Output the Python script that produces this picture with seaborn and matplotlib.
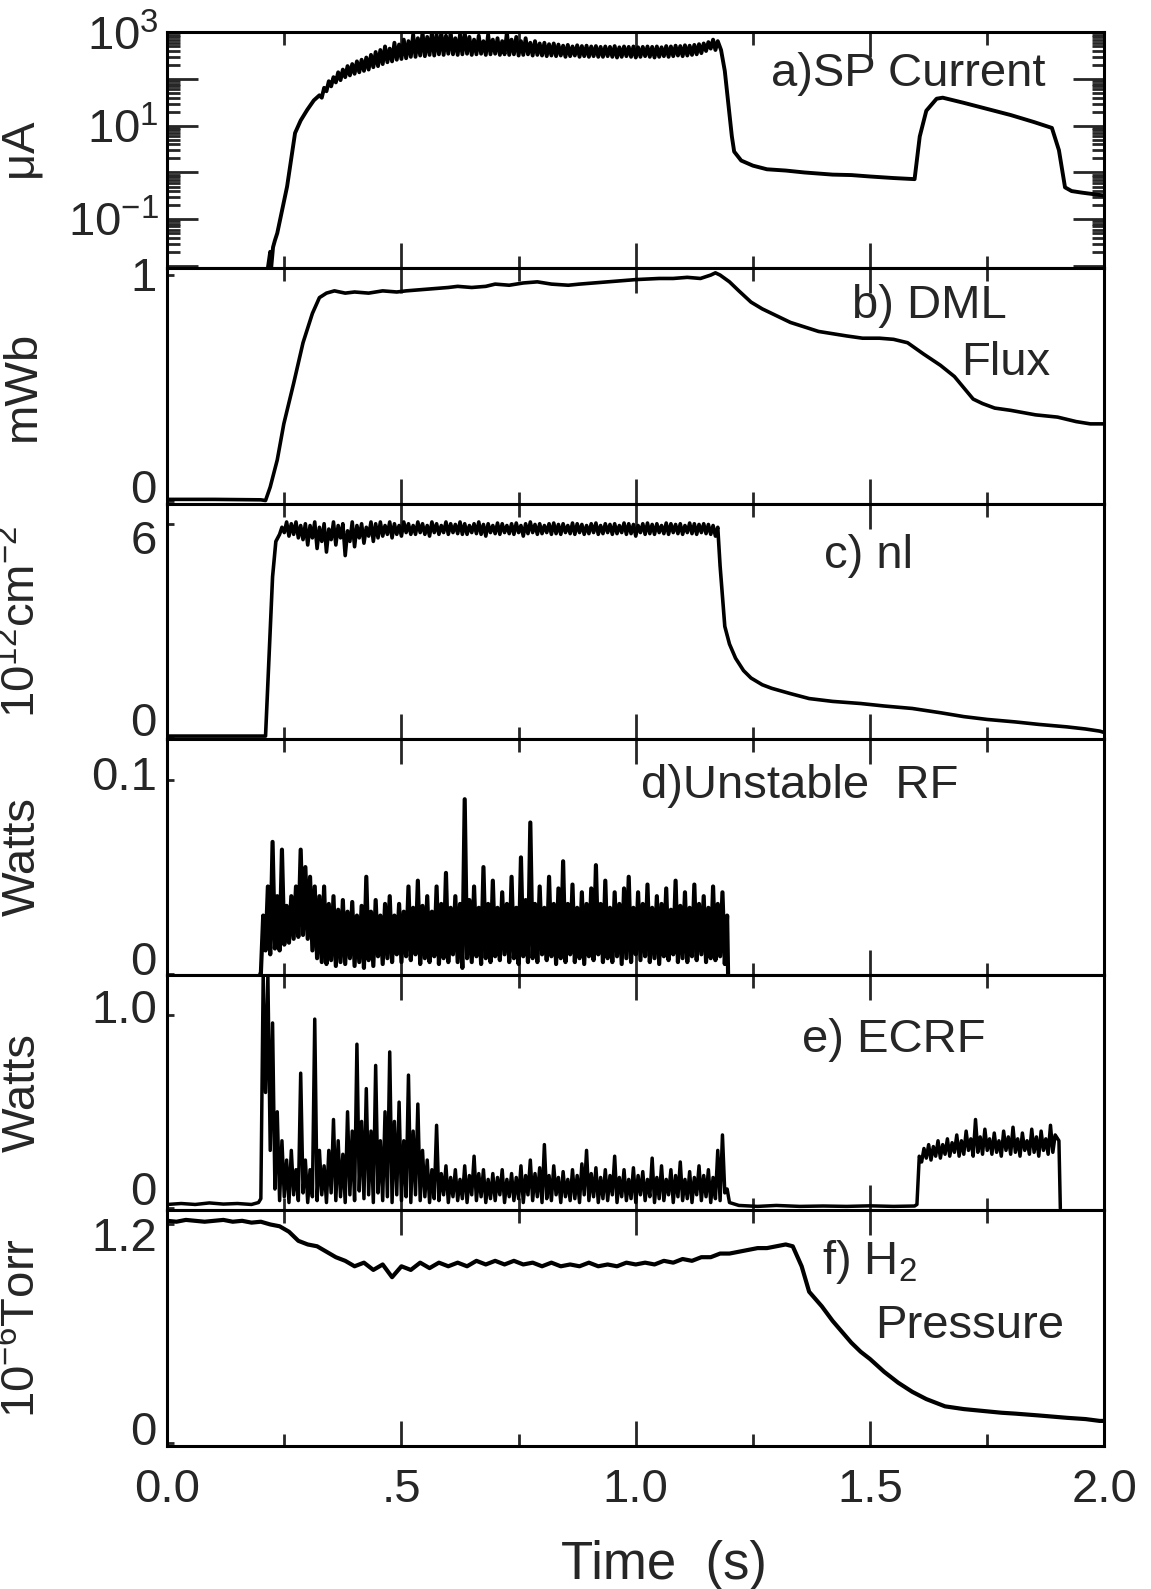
import numpy as np
import pandas as pd
import seaborn as sns
import matplotlib
matplotlib.use('Agg')
import matplotlib.pyplot as plt
from matplotlib.ticker import NullFormatter

sns.set_style('ticks')
plt.rcParams['font.family'] = ['Liberation Sans', 'DejaVu Sans']
plt.rcParams['mathtext.fontset'] = 'custom'
plt.rcParams['mathtext.rm'] = 'Liberation Sans'
plt.rcParams['mathtext.it'] = 'Liberation Sans:italic'
plt.rcParams['mathtext.default'] = 'regular'

FS = 34

############################## DATA ##############################
# a) SP current, uA (log axis)
a_rise = [(0.215, 0.009), (0.22, 0.02), (0.222, 0.009), (0.226, 0.025), (0.23, 0.035),
          (0.235, 0.05), (0.245, 0.15), (0.256, 0.5), (0.265, 2.0), (0.273, 7.0),
          (0.285, 13), (0.299, 22), (0.313, 35), (0.325, 45)]
a_t0, a_t1 = 0.33, 1.17
a_lo = [40, 55, 70, 85, 95, 110, 120, 130, 140, 150,
        160, 180, 190, 210, 230, 240, 260, 270, 280, 300,
        300, 320, 310, 330, 320, 340, 330, 350, 340, 330,
        340, 350, 330, 340, 350, 330, 340, 350, 330, 340,
        330, 340, 320, 330, 340, 320, 330, 320, 310, 320,
        310, 320, 300, 310, 320, 300, 310, 300, 310, 300,
        300, 310, 300, 290, 300, 310, 300, 290, 300, 310,
        300, 290, 300, 310, 300, 310, 320, 310, 320, 330,
        340, 360, 400, 450, 420]
a_hi = [65, 90, 110, 140, 160, 190, 210, 240, 260, 290,
        330, 380, 420, 500, 450, 600, 550, 700, 650, 900,
        750, 1000, 800, 1000, 900, 1000, 850, 1000, 750, 900,
        1000, 800, 700, 850, 650, 900, 700, 750, 650, 1000,
        700, 800, 650, 750, 600, 650, 580, 600, 560, 580,
        550, 520, 540, 500, 530, 510, 520, 500, 510, 490,
        500, 490, 510, 480, 500, 490, 500, 480, 490, 500,
        490, 500, 480, 510, 500, 520, 510, 530, 520, 540,
        560, 580, 620, 700, 650]
a_tail = [(1.182, 420), (1.19, 150), (1.197, 34), (1.205, 6), (1.21, 2.8), (1.225, 1.8),
          (1.25, 1.4), (1.28, 1.17), (1.32, 1.1), (1.36, 1.0), (1.42, 0.9), (1.46, 0.88),
          (1.5, 0.82), (1.55, 0.76), (1.595, 0.72), (1.606, 5.9), (1.62, 21), (1.642, 38),
          (1.655, 40), (1.7, 31), (1.75, 23), (1.8, 17), (1.85, 12), (1.888, 9),
          (1.903, 3.0), (1.916, 0.48), (1.93, 0.4), (1.952, 0.37), (1.98, 0.34), (2.0, 0.32)]

# b) DML flux, mWb
b_pts = [(0.0, 0.005), (0.1, 0.005), (0.2, 0.003), (0.21, 0.0), (0.22, 0.06), (0.235, 0.18),
         (0.249, 0.34), (0.27, 0.52), (0.29, 0.70), (0.31, 0.83), (0.325, 0.90), (0.34, 0.92),
         (0.357, 0.93), (0.38, 0.92), (0.40, 0.925), (0.43, 0.92), (0.46, 0.93), (0.49, 0.925),
         (0.51, 0.93), (0.54, 0.935), (0.57, 0.94), (0.60, 0.945), (0.62, 0.95), (0.65, 0.945),
         (0.68, 0.95), (0.70, 0.96), (0.73, 0.955), (0.76, 0.965), (0.79, 0.97), (0.82, 0.96),
         (0.856, 0.955), (0.88, 0.96), (0.91, 0.965), (0.94, 0.97), (0.97, 0.975), (1.0, 0.98),
         (1.05, 0.985), (1.08, 0.985), (1.11, 0.99), (1.138, 0.985), (1.16, 1.0), (1.17, 1.01),
         (1.18, 1.0), (1.2, 0.97), (1.22, 0.93), (1.246, 0.88), (1.27, 0.85), (1.3, 0.82),
         (1.33, 0.79), (1.36, 0.77), (1.39, 0.75), (1.42, 0.74), (1.45, 0.73), (1.484, 0.72),
         (1.52, 0.72), (1.55, 0.715), (1.58, 0.70), (1.614, 0.65), (1.65, 0.60), (1.68, 0.55),
         (1.70, 0.50), (1.72, 0.45), (1.74, 0.43), (1.766, 0.41), (1.8, 0.40), (1.853, 0.38),
         (1.9, 0.37), (1.94, 0.35), (1.97, 0.34), (2.0, 0.34)]

# c) nl, 10^12 cm^-2
c_rise = [(0.0, 0.0), (0.2, 0.0), (0.21, 0.0), (0.215, 1.5), (0.22, 3.0), (0.225, 4.5),
          (0.232, 5.5)]
c_t0, c_t1 = 0.24, 1.17
c_lo = [5.70, 5.75, 5.65, 5.70, 5.60, 5.55, 5.40, 5.60, 5.30, 5.50,
        5.20, 5.55, 5.40, 5.60, 5.10, 5.50, 5.35, 5.60, 5.45, 5.65,
        5.50, 5.60, 5.65, 5.70, 5.60, 5.70, 5.65, 5.75, 5.70, 5.70,
        5.75, 5.70, 5.65, 5.75, 5.70, 5.75, 5.70, 5.75, 5.72, 5.70,
        5.70, 5.75, 5.72, 5.70, 5.65, 5.75, 5.72, 5.70, 5.75, 5.72,
        5.70, 5.75, 5.65, 5.72, 5.75, 5.70, 5.72, 5.75, 5.70, 5.72,
        5.70, 5.75, 5.72, 5.70, 5.75, 5.70, 5.72, 5.75, 5.70, 5.72,
        5.75, 5.70, 5.72, 5.75, 5.70, 5.72, 5.65, 5.75, 5.70, 5.72,
        5.70, 5.75, 5.72, 5.70, 5.75, 5.72, 5.70, 5.75, 5.72, 5.70,
        5.75, 5.72, 5.70, 5.65]
c_hi = [5.90, 6.05, 6.00, 6.05, 5.95, 6.00, 5.95, 6.05, 5.90, 6.00,
        5.85, 6.05, 5.95, 6.00, 5.80, 6.05, 5.95, 6.00, 5.90, 6.05,
        6.00, 6.05, 5.95, 6.05, 6.00, 5.95, 6.05, 6.00, 5.95, 6.05,
        6.00, 5.95, 6.05, 6.00, 5.95, 6.05, 6.00, 5.98, 6.05, 6.00,
        5.95, 6.00, 6.05, 5.98, 6.00, 5.95, 6.02, 6.00, 5.95, 6.00,
        6.02, 5.95, 6.00, 6.05, 5.98, 6.00, 5.95, 6.00, 6.02, 5.98,
        6.00, 5.95, 6.02, 6.00, 5.98, 5.95, 6.00, 6.02, 5.95, 6.00,
        5.98, 6.00, 5.95, 6.02, 6.00, 5.98, 5.95, 6.00, 6.02, 5.98,
        6.00, 5.95, 6.02, 6.00, 5.98, 6.00, 5.95, 6.02, 6.00, 5.98,
        6.00, 5.98, 5.95, 5.90]
c_tail = [(1.18, 4.8), (1.19, 3.1), (1.2, 2.6), (1.213, 2.2), (1.23, 1.85), (1.246, 1.64),
          (1.27, 1.45), (1.29, 1.35), (1.33, 1.2), (1.37, 1.06), (1.42, 0.98), (1.48, 0.92),
          (1.53, 0.85), (1.59, 0.78), (1.65, 0.66), (1.70, 0.55), (1.75, 0.47), (1.81, 0.40),
          (1.86, 0.33), (1.92, 0.26), (1.96, 0.20), (1.99, 0.14), (2.0, 0.10)]

# d) unstable RF, Watts: lower and upper edges of the noise band
d_t0, d_t1 = 0.20, 1.19
d_lo = [0.000, 0.012, 0.010, 0.013, 0.012, 0.015, 0.016, 0.018, 0.019, 0.020,
        0.018, 0.012, 0.008, 0.006, 0.005, 0.007, 0.004, 0.006, 0.005, 0.008,
        0.004, 0.006, 0.003, 0.007, 0.004, 0.009, 0.005, 0.008, 0.006, 0.010,
        0.006, 0.009, 0.007, 0.010, 0.005, 0.008, 0.006, 0.009, 0.005, 0.008,
        0.006, 0.010, 0.006, 0.003, 0.008, 0.006, 0.009, 0.005, 0.008, 0.006,
        0.009, 0.007, 0.010, 0.006, 0.008, 0.005, 0.009, 0.006, 0.008, 0.006,
        0.010, 0.007, 0.009, 0.005, 0.008, 0.006, 0.010, 0.006, 0.008, 0.005,
        0.009, 0.007, 0.010, 0.006, 0.008, 0.006, 0.009, 0.005, 0.008, 0.006,
        0.010, 0.007, 0.009, 0.006, 0.008, 0.005, 0.009, 0.007, 0.010, 0.006,
        0.008, 0.006, 0.009, 0.007, 0.010, 0.006, 0.008, 0.007, 0.009, 0.005]
d_hi = [0.030, 0.045, 0.068, 0.040, 0.064, 0.035, 0.040, 0.045, 0.064, 0.055,
        0.050, 0.045, 0.040, 0.045, 0.036, 0.040, 0.033, 0.038, 0.032, 0.037,
        0.030, 0.035, 0.050, 0.032, 0.038, 0.030, 0.036, 0.040, 0.030, 0.036,
        0.032, 0.045, 0.034, 0.048, 0.035, 0.040, 0.032, 0.045, 0.036, 0.052,
        0.034, 0.040, 0.036, 0.090, 0.038, 0.045, 0.034, 0.055, 0.036, 0.048,
        0.034, 0.042, 0.036, 0.050, 0.034, 0.060, 0.038, 0.078, 0.036, 0.045,
        0.034, 0.050, 0.036, 0.044, 0.058, 0.036, 0.046, 0.034, 0.042, 0.036,
        0.044, 0.056, 0.036, 0.048, 0.034, 0.042, 0.036, 0.044, 0.050, 0.034,
        0.042, 0.036, 0.046, 0.034, 0.040, 0.036, 0.044, 0.033, 0.048, 0.035,
        0.042, 0.034, 0.046, 0.036, 0.040, 0.034, 0.045, 0.036, 0.042, 0.030]

# e) ECRF, Watts
e_base1 = [(0.0, 0.02), (0.03, 0.025), (0.06, 0.02), (0.09, 0.028), (0.12, 0.022),
           (0.15, 0.025), (0.18, 0.02), (0.195, 0.03)]
e_t0, e_t1 = 0.20, 1.19
e_lo = [0.05, 0.60, 0.30, 0.10, 0.04, 0.06, 0.03, 0.07, 0.04, 0.08,
        0.03, 0.06, 0.04, 0.07, 0.03, 0.08, 0.04, 0.06, 0.03, 0.07,
        0.04, 0.09, 0.05, 0.07, 0.03, 0.08, 0.04, 0.06, 0.03, 0.07,
        0.04, 0.06, 0.03, 0.07, 0.04, 0.06, 0.03, 0.05, 0.04, 0.07,
        0.03, 0.06, 0.04, 0.05, 0.03, 0.07, 0.04, 0.06, 0.03, 0.05,
        0.04, 0.07, 0.03, 0.06, 0.04, 0.05, 0.03, 0.07, 0.04, 0.06,
        0.03, 0.05, 0.04, 0.07, 0.03, 0.06, 0.04, 0.05, 0.03, 0.07,
        0.04, 0.06, 0.03, 0.05, 0.04, 0.07, 0.03, 0.06, 0.04, 0.05,
        0.03, 0.07, 0.04, 0.06, 0.03, 0.05, 0.04, 0.07, 0.03, 0.06,
        0.04, 0.05, 0.03, 0.07, 0.04, 0.06, 0.03, 0.05, 0.04, 0.08]
e_hi = [1.21, 1.21, 0.96, 0.50, 0.35, 0.25, 0.30, 0.20, 0.70, 0.25,
        0.20, 0.98, 0.30, 0.22, 0.30, 0.46, 0.35, 0.28, 0.50, 0.40,
        0.85, 0.45, 0.62, 0.40, 0.74, 0.35, 0.50, 0.81, 0.45, 0.55,
        0.35, 0.69, 0.40, 0.54, 0.30, 0.25, 0.20, 0.43, 0.18, 0.22,
        0.16, 0.20, 0.15, 0.22, 0.17, 0.27, 0.18, 0.20, 0.15, 0.18,
        0.16, 0.20, 0.15, 0.18, 0.16, 0.22, 0.17, 0.25, 0.18, 0.21,
        0.33, 0.17, 0.22, 0.16, 0.19, 0.15, 0.20, 0.17, 0.23, 0.30,
        0.18, 0.21, 0.16, 0.20, 0.17, 0.27, 0.16, 0.20, 0.15, 0.21,
        0.17, 0.19, 0.15, 0.26, 0.16, 0.22, 0.15, 0.20, 0.17, 0.24,
        0.15, 0.19, 0.16, 0.22, 0.17, 0.20, 0.16, 0.30, 0.38, 0.10]
e_base2 = [(1.20, 0.03), (1.22, 0.015), (1.26, 0.01), (1.30, 0.015), (1.35, 0.01),
           (1.40, 0.012), (1.45, 0.01), (1.50, 0.013), (1.55, 0.01), (1.595, 0.012)]
e2_t0, e2_t1 = 1.60, 1.89
e2_lo = [0.02, 0.24, 0.26, 0.25, 0.27, 0.26, 0.28, 0.27, 0.29, 0.27,
         0.28, 0.30, 0.27, 0.29, 0.28, 0.30, 0.28, 0.29, 0.27, 0.30,
         0.28, 0.29, 0.27, 0.30, 0.28, 0.29, 0.27, 0.30, 0.28, 0.29]
e2_hi = [0.27, 0.31, 0.33, 0.32, 0.35, 0.33, 0.36, 0.34, 0.38, 0.35,
         0.40, 0.36, 0.46, 0.37, 0.41, 0.36, 0.39, 0.35, 0.40, 0.37,
         0.42, 0.36, 0.39, 0.35, 0.41, 0.37, 0.40, 0.36, 0.43, 0.38]
e_end = [(1.903, 0.35), (1.906, 0.0)]

# f) H2 pressure, 10^-6 Torr
f_pts = [(0.0, 1.22), (0.02, 1.215), (0.04, 1.225), (0.06, 1.22), (0.08, 1.215), (0.10, 1.22),
         (0.12, 1.225), (0.14, 1.215), (0.16, 1.22), (0.18, 1.21), (0.20, 1.215), (0.22, 1.20),
         (0.24, 1.19), (0.26, 1.16), (0.28, 1.11), (0.30, 1.09), (0.32, 1.08), (0.34, 1.05),
         (0.36, 1.02), (0.38, 1.0), (0.40, 0.97), (0.42, 0.99), (0.44, 0.95), (0.46, 0.98),
         (0.48, 0.91), (0.50, 0.97), (0.52, 0.95), (0.54, 0.99), (0.56, 0.96), (0.58, 0.99),
         (0.60, 0.97), (0.62, 0.99), (0.64, 0.97), (0.66, 1.0), (0.68, 0.98), (0.70, 1.0),
         (0.72, 0.98), (0.74, 1.0), (0.76, 0.98), (0.78, 0.99), (0.80, 0.97), (0.82, 0.99),
         (0.84, 0.97), (0.86, 0.98), (0.88, 0.97), (0.90, 0.99), (0.92, 0.97), (0.94, 0.98),
         (0.96, 0.97), (0.98, 0.99), (1.00, 0.98), (1.02, 0.99), (1.04, 0.98), (1.06, 1.0),
         (1.08, 0.99), (1.10, 1.01), (1.12, 1.0), (1.14, 1.02), (1.16, 1.02), (1.18, 1.04),
         (1.20, 1.04), (1.22, 1.05), (1.24, 1.06), (1.26, 1.07), (1.28, 1.07), (1.30, 1.08),
         (1.32, 1.09), (1.335, 1.08), (1.354, 0.97), (1.37, 0.83), (1.397, 0.75), (1.42, 0.67),
         (1.44, 0.61), (1.46, 0.55), (1.48, 0.50), (1.50, 0.46), (1.53, 0.39), (1.56, 0.33),
         (1.59, 0.28), (1.62, 0.24), (1.66, 0.20), (1.70, 0.185), (1.74, 0.175), (1.78, 0.165),
         (1.81, 0.16), (1.86, 0.15), (1.92, 0.137), (1.96, 0.13), (1.99, 0.12), (2.0, 0.12)]

panel_labels = ['$\\mu$A', 'mWb', '$10^{12}$cm$^{-2}$', 'Watts', 'Watts', '$10^{-6}$Torr']
# y tick labels of panels b-f: (value, text); drawn as text beside the axis
y_ticks = [None, [0, 1], [0, 6], [0, 0.1], [0, 1.0], [0, 1.2]]
y_ticklabels = [None, ['0', '1'], ['0', '6'], ['0', '0.1'], ['0', '1.0'], ['0', '1.2']]
y_label_pos = [None, [0.055, 0.955], [0.065, 0.837], [0.05, 0.837], [0.072, 0.845], [0.055, 0.88]]
x_ticks = [0.0, 0.5, 1.0, 1.5, 2.0]
x_ticklabels = ['0.0', '.5', '1.0', '1.5', '2.0']


def grid(t0, t1, vals):
    return list(np.linspace(t0, t1, len(vals)))


def band(t0, t1, lo, hi):
    # lower edge sampled at t0.., upper edge half a step later -> dense zigzag
    step = (t1 - t0) / (len(lo) - 1)
    tl = grid(t0, t1, lo)
    th = grid(t0 + step / 2, t1 + step / 2, hi)
    return sorted(list(zip(tl, lo)) + list(zip(th, hi)))


def trace(ax, pts, lw):
    df = pd.DataFrame(pts, columns=['t', 'v'])
    sns.lineplot(data=df, x='t', y='v', ax=ax, color='black', linewidth=lw,
                 estimator=None, sort=False)


fig, axes = plt.subplots(6, 1, figsize=(11.51, 15.89), dpi=100, sharex=True)
fig.subplots_adjust(left=0.1452, right=0.9595, top=0.9796, bottom=0.0901, hspace=0)

# a
ax = axes[0]
ax.set_yscale('log')
trace(ax, a_rise + band(a_t0, a_t1, a_lo, a_hi) + a_tail, 2.8)
ax.set_ylim(9e-3, 1e3)
ax.set_yticks([1e-2, 1e-1, 1, 10, 100, 1000])
ax.set_yticklabels(['', '$10^{-1}$', '', '$10^{1}$', '', '$10^{3}$'])
ax.set_yticks([m * 10.0 ** e for e in range(-3, 3) for m in range(2, 10)
               if 9e-3 < m * 10.0 ** e < 1e3], minor=True)
ax.yaxis.set_minor_formatter(NullFormatter())
ax.tick_params(axis='y', which='both', right=True, direction='in', width=2)
ax.tick_params(axis='y', which='major', length=22, labelsize=FS, pad=6)
ax.tick_params(axis='y', which='minor', length=9)

# b
ax = axes[1]
trace(ax, b_pts, 2.6)
ax.set_ylim(-0.0135, 1.0315)

# c
ax = axes[2]
trace(ax, c_rise + band(c_t0, c_t1, c_lo, c_hi) + c_tail, 2.6)
ax.set_ylim(-0.086, 6.57)

# d
ax = axes[3]
trace(ax, [(0.199, 0.0)] + band(d_t0, d_t1, d_lo, d_hi) + [(1.197, 0.0)], 3.0)
ax.set_ylim(-0.0005, 0.121)

# e
ax = axes[4]
trace(ax, e_base1 + band(e_t0, e_t1, e_lo, e_hi) + e_base2
      + band(e2_t0, e2_t1, e2_lo, e2_hi) + e_end, 2.5)
ax.set_ylim(-0.01, 1.21)

# f
ax = axes[5]
trace(ax, f_pts, 3.0)
ax.set_ylim(-0.017, 1.278)

texts = [
    [(0.937, 0.825, 'a)SP Current', 'right')],
    [(0.731, 0.84, 'b) DML', 'left'), (0.847, 0.595, 'Flux', 'left')],
    [(0.701, 0.776, 'c) nl', 'left')],
    [(0.506, 0.80, 'd)Unstable  RF', 'left')],
    [(0.677, 0.724, 'e) ECRF', 'left')],
    [(0.699, 0.78, 'f) H$_2$', 'left'), (0.755, 0.51, 'Pressure', 'left')],
]

for i, ax in enumerate(axes):
    ax.set_xlim(0, 2.0)
    ax.set_xticks(x_ticks)
    ax.set_xticks([0.25, 0.75, 1.25, 1.75], minor=True)
    ax.tick_params(axis='x', which='both', direction='in', top=True, bottom=True, width=2)
    ax.tick_params(axis='x', which='major', length=18)
    ax.tick_params(axis='x', which='minor', length=9)
    if i > 0:
        ax.set_yticks(y_ticks[i])
        ax.set_yticklabels([])
        ax.tick_params(axis='y', which='major', direction='in', length=5, width=2)
        for lab, yp in zip(y_ticklabels[i], y_label_pos[i]):
            ax.text(-0.011, yp, lab, transform=ax.transAxes, fontsize=FS,
                    ha='right', va='center')
    for s in ax.spines.values():
        s.set_linewidth(2.2)
        s.set_color('black')
    ax.set_ylabel(panel_labels[i], fontsize=FS)
    ax.yaxis.set_label_coords(-0.13, 0.5)
    ax.set_xlabel('')
    for (x, y, s, ha) in texts[i]:
        ax.text(x, y, s, transform=ax.transAxes, fontsize=FS, ha=ha, va='center')

axes[-1].set_xticklabels(x_ticklabels)
axes[-1].tick_params(axis='x', labelsize=FS, pad=16)
axes[-1].set_xlabel('Time  (s)', fontsize=FS + 4)
axes[-1].xaxis.set_label_coords(0.53, -0.40)

plt.savefig('out.png', dpi=100)
